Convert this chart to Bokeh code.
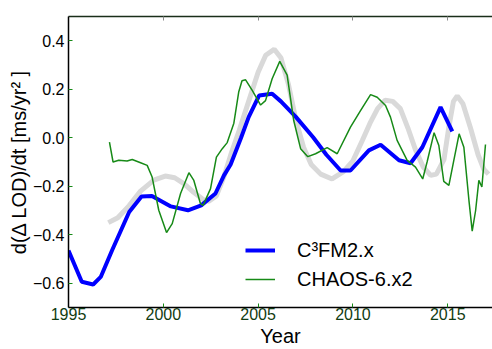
from bokeh.plotting import figure
from bokeh.models import LinearAxis, FixedTicker, Range1d, Legend, LegendItem
from bokeh.embed import file_html
from bokeh.resources import INLINE

# C3FM2.x (blue, thick)
c3fm_year = [1995.0, 1995.7, 1996.3, 1996.7, 1997.3, 1998.2, 1998.85, 1999.4, 2000.4,
             2001.3, 2002.0, 2002.75, 2003.2, 2003.55, 2004.1, 2004.5, 2005.05, 2005.74,
             2006.2, 2007.0, 2007.9, 2008.6, 2009.35, 2009.87, 2010.84, 2011.46, 2012.43,
             2013.04, 2013.66, 2014.62, 2015.24]
c3fm_val = [-0.465, -0.594, -0.605, -0.574, -0.464, -0.306, -0.242, -0.240, -0.283,
            -0.299, -0.279, -0.23, -0.155, -0.11, 0.0, 0.085, 0.174, 0.181,
            0.15, 0.085, 0.002, -0.07, -0.135, -0.135, -0.052, -0.029, -0.093,
            -0.105, -0.039, 0.126, 0.026]

# CHAOS-6.x2 (green, thin)
chaos_year = [1997.16, 1997.35, 1997.65, 1998.09, 1998.36, 1998.8, 1999.15, 1999.41, 1999.76,
              2000.17, 2000.47, 2000.91, 2001.35, 2001.61, 2001.96, 2002.1, 2002.49, 2002.8,
              2003.11, 2003.37, 2003.72, 2003.98, 2004.15, 2004.34, 2004.69, 2005.13, 2005.39,
              2005.74, 2006.14, 2006.53, 2006.88, 2007.24, 2007.62, 2008.03, 2008.64, 2009.17,
              2009.87, 2010.4, 2010.93, 2011.28, 2011.72, 2011.98, 2012.33, 2012.86, 2013.3,
              2013.68, 2013.91, 2014.28, 2014.53, 2014.79, 2015.06, 2015.32, 2015.6, 2015.85,
              2016.12, 2016.29, 2016.47, 2016.64, 2016.8, 2016.99]
chaos_val = [-0.018, -0.10, -0.093, -0.096, -0.09, -0.103, -0.114, -0.162, -0.299,
             -0.391, -0.354, -0.23, -0.144, -0.176, -0.272, -0.279, -0.21, -0.08,
             -0.045, -0.02, 0.06, 0.19, 0.235, 0.239, 0.195, 0.135, 0.153,
             0.243, 0.315, 0.258, 0.07, -0.045, -0.078, -0.066, -0.041, -0.066,
             0.044, 0.112, 0.178, 0.167, 0.133, 0.085, -0.011, -0.093, -0.121,
             -0.17, -0.10, 0.021, -0.032, -0.18, -0.196, -0.093, 0.016, -0.039,
             -0.26, -0.385, -0.30, -0.176, -0.203, -0.028]

# Background reference curve (light grey, thick)
ref_year = [1997.1, 1997.6, 1998.2, 1998.8, 1999.5, 2000.1, 2000.6, 2001.1, 2001.6, 2002.1,
            2002.4, 2002.8, 2003.2, 2003.6, 2004.0, 2004.5, 2005.0, 2005.4, 2005.85, 2006.2,
            2006.6, 2007.0, 2007.4, 2007.8, 2008.3, 2008.9, 2009.5, 2010.0, 2010.5, 2010.9,
            2011.3, 2011.7, 2012.1, 2012.5, 2012.9, 2013.3, 2013.7, 2014.1, 2014.4, 2014.8,
            2015.05, 2015.3, 2015.5, 2015.8, 2016.2, 2016.6, 2016.9, 2017.15]
ref_val = [-0.35, -0.33, -0.28, -0.22, -0.175, -0.158, -0.165, -0.19, -0.225, -0.255,
           -0.262, -0.24, -0.16, -0.06, 0.03, 0.15, 0.27, 0.34, 0.365, 0.33,
           0.22, 0.07, -0.04, -0.11, -0.15, -0.17, -0.14, -0.095, -0.01, 0.06,
           0.12, 0.155, 0.15, 0.12, 0.04, -0.05, -0.12, -0.155, -0.15, -0.09,
           0.04, 0.15, 0.172, 0.14, 0.04, -0.07, -0.13, -0.15]

x_ticks = [1995, 2000, 2005, 2010, 2015]
y_ticks = [-0.6, -0.4, -0.2, 0.0, 0.2, 0.4]
y_tick_labels = ["\u22120.6", "\u22120.4", "\u22120.2", "0.0", "0.2", "0.4"]

FONT = "Liberation Sans"
GREEN = "#178a17"

p = figure(width=492, height=349, output_backend="svg", toolbar_location=None,
           x_range=Range1d(1995, 2017.36), y_range=Range1d(-0.7, 0.5),
           min_border_left=68, min_border_right=0, min_border_top=16, min_border_bottom=42)
p.outline_line_color = None
p.grid.visible = False
p.background_fill_color = "white"
p.border_fill_color = "white"

p.line(ref_year, ref_val, line_color="#d9d9d9", line_width=5)
blue = p.line(c3fm_year, c3fm_val, line_color="#0000ff", line_width=4)
green = p.line(chaos_year, chaos_val, line_color=GREEN, line_width=1.5)

# bottom axis
xa = p.xaxis[0]
xa.ticker = FixedTicker(ticks=x_ticks)
xa.axis_label = "Year"
xa.axis_label_text_font = FONT
xa.axis_label_text_font_size = "20px"
xa.axis_label_text_font_style = "normal"
xa.axis_label_text_color = "black"
xa.axis_label_standoff = 2
xa.major_label_text_font = FONT
xa.major_label_text_font_size = "16px"
xa.major_label_text_color = "#123c12"
xa.major_label_standoff = 0
xa.major_tick_in = 4
xa.major_tick_out = 0
xa.major_tick_line_color = GREEN
xa.minor_tick_line_color = None
xa.axis_line_color = "black"
xa.axis_line_width = 1.5

# left axis
ya = p.yaxis[0]
ya.ticker = FixedTicker(ticks=y_ticks)
ya.major_label_overrides = {t: s for t, s in zip(y_ticks, y_tick_labels)}
ya.axis_label = "d(\u0394 LOD)/dt [ms/yr\u00b2 ]"
ya.axis_label_text_font = FONT
ya.axis_label_text_font_size = "20px"
ya.axis_label_text_font_style = "normal"
ya.axis_label_text_color = "black"
ya.axis_label_standoff = 0
ya.major_label_text_font = FONT
ya.major_label_text_font_size = "16px"
ya.major_label_text_color = "black"
ya.major_label_standoff = 4
ya.major_tick_in = 4
ya.major_tick_out = 0
ya.major_tick_line_color = GREEN
ya.minor_tick_line_color = None
ya.axis_line_color = "black"
ya.axis_line_width = 1.5

# top border with inward ticks
top = LinearAxis(ticker=FixedTicker(ticks=x_ticks), major_label_text_color=None,
                 major_label_text_font_size="1px", major_label_standoff=0,
                 major_tick_in=4, major_tick_out=0, major_tick_line_color="#8a8a8a",
                 minor_tick_line_color=None, axis_line_color="#1a2e1a", axis_line_width=1.5)
p.add_layout(top, "above")

legend = Legend(items=[LegendItem(label="C\u00b3FM2.x", renderers=[blue]),
                       LegendItem(label="CHAOS-6.x2", renderers=[green])],
                location=(177, 16), border_line_color=None, background_fill_alpha=0,
                padding=0, margin=0, spacing=5, glyph_width=30, glyph_height=24,
                label_height=24, label_standoff=22, label_text_font=FONT,
                label_text_font_size="20px", label_text_color="black")
p.add_layout(legend)

open("out.html", "w").write(file_html(p, INLINE))
